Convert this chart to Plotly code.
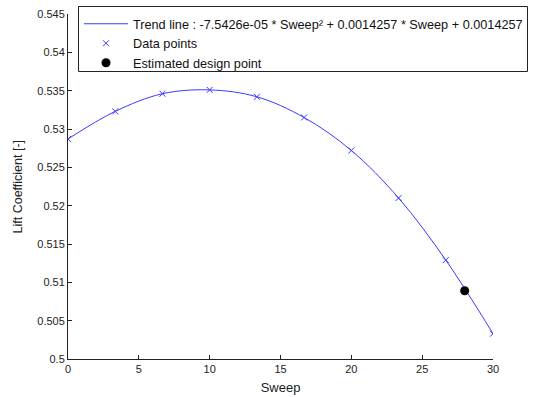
import plotly.graph_objects as go

# Data
sweep = [0, 10/3, 20/3, 10, 40/3, 50/3, 20, 70/3, 80/3, 30]
lift = [0.5287, 0.5323, 0.5346, 0.5351, 0.5342, 0.5315, 0.5272, 0.5210, 0.5129, 0.5033]
design_sweep = [28]
design_lift = [0.5089]
y_ticks = [0.5, 0.505, 0.51, 0.515, 0.52, 0.525, 0.53, 0.535, 0.54, 0.545]
y_tick_labels = ["0.5", "0.505", "0.51", "0.515", "0.52", "0.525", "0.53", "0.535", "0.54", "0.545"]
x_ticks = [0, 5, 10, 15, 20, 25, 30]

trend_label = "Trend line : -7.5426e-05 * Sweep² + 0.0014257 * Sweep + 0.0014257"

font = dict(family="Liberation Sans, Arial, sans-serif", size=11, color="#222222")
blue = "#3a3aff"

# figure and plot area in pixels
FW, FH = 542, 397
L, R, T, B = 68, 493, 14, 359
W, H = R - L, B - T

def px_x(p):
    return (p - L) / W

def px_y(p):
    return 1 - (p - T) / H

fig = go.Figure()
fig.add_trace(go.Scatter(
    x=sweep, y=lift, mode="lines", line=dict(color=blue, width=1, shape="spline"),
    name=trend_label))
fig.add_trace(go.Scatter(
    x=sweep, y=lift, mode="markers",
    marker=dict(symbol="x-thin", size=6, line=dict(color=blue, width=1), color=blue),
    name="Data points"))
fig.add_trace(go.Scatter(
    x=design_sweep, y=design_lift, mode="markers",
    marker=dict(symbol="circle", size=9, color="black"),
    name="Estimated design point"))

fig.add_shape(type="rect", xref="paper", yref="paper",
              x0=px_x(78.5), x1=px_x(527.5), y0=px_y(71.5), y1=px_y(6.5),
              line=dict(color="#222222", width=1), fillcolor="white", layer="above")

fig.add_annotation(text="Lift Coefficient [-]", xref="paper", yref="paper",
                   x=px_x(17), y=0.5, xanchor="center", yanchor="middle",
                   textangle=-90, showarrow=False,
                   font=dict(family="Liberation Sans, Arial, sans-serif", size=12.5,
                             color="#222222"))

fig.update_layout(
    width=FW, height=FH,
    margin=dict(l=L, r=FW - R, t=T, b=FH - B, pad=0, autoexpand=False),
    paper_bgcolor="white", plot_bgcolor="white",
    font=font,
    showlegend=True,
    legend=dict(
        x=px_x(79), y=px_y(9), xanchor="left", yanchor="top",
        borderwidth=0, bgcolor="rgba(0,0,0,0)",
        font=dict(family="Liberation Sans, Arial, sans-serif", size=12.7, color="#111111"),
        tracegroupgap=0, itemwidth=44,
    ),
    xaxis=dict(
        range=[0, 30], tickvals=x_ticks, ticks="inside", ticklen=4, tickcolor="#222",
        showline=True, linecolor="#222", linewidth=1, showgrid=False, zeroline=False,
        title=dict(text="Sweep", standoff=8), automargin=False,
    ),
    yaxis=dict(
        range=[0.5, 0.545], tickvals=y_ticks, ticktext=y_tick_labels, ticks="inside", ticklen=4,
        tickcolor="#222", showline=True, linecolor="#222", linewidth=1, showgrid=False,
        zeroline=False, automargin=False,
    ),
)

fig.write_html("out.html")
